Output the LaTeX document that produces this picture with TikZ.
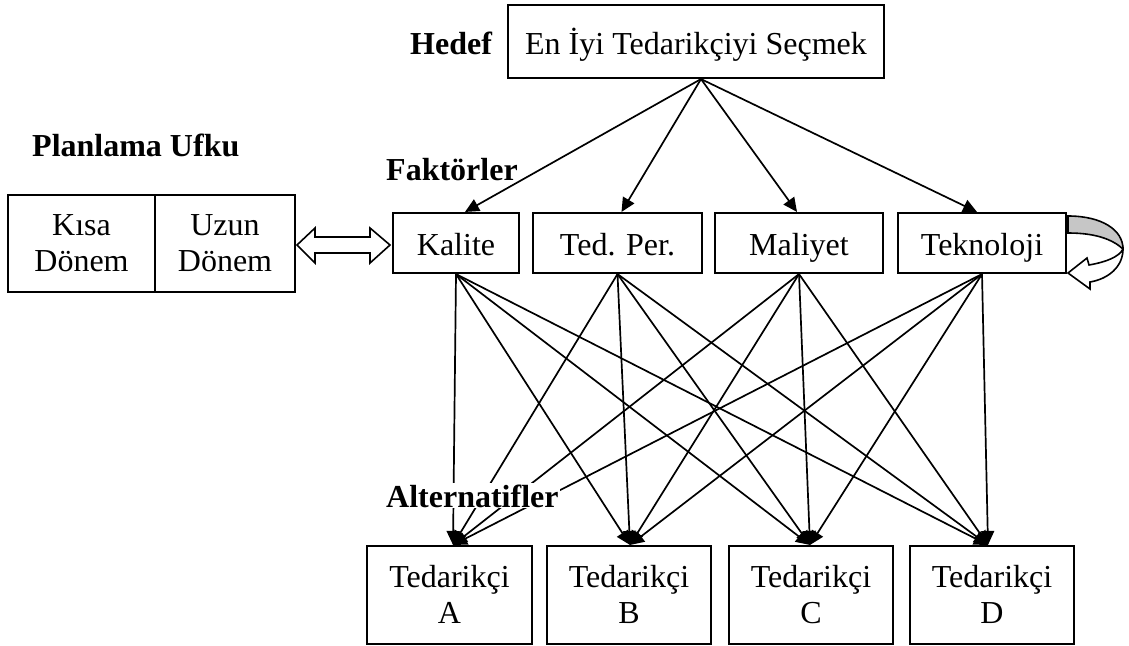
\documentclass[tikz,border=0pt]{standalone}
\usepackage{fontspec}
\setmainfont{Liberation Serif}
\usetikzlibrary{arrows.meta,calc}
% fixed line height for two-line box texts
\newcommand\boxline{\rule[-8pt]{0pt}{36pt}}
\begin{document}
\begin{tikzpicture}[x=1pt,y=-1pt,
  box/.style={draw,line width=2.1pt,inner sep=0pt,align=center,
    font=\fontsize{32}{36}\selectfont},
  onel/.style={box,text height=30pt,text depth=6pt},
  lbl/.style={inner sep=0pt,anchor=base west,
    font=\fontsize{32}{36}\selectfont\bfseries},
  conn/.style={line width=1.7pt,-{Triangle[length=14pt,width=13pt]}},
  hollow/.style={draw,line width=1.6pt,line join=miter},
]
\useasboundingbox (0,0) rectangle (1129,645);

% goal
\node[box,text height=31pt,text depth=6pt,minimum width=376,minimum height=73] (goal) at (696,41.5) {En İyi Tedarikçiyi Seçmek};
\node[lbl] (hedef) at (410,54) {Hedef};

% factors
\node[lbl] (faktor) at (386,180) {Faktörler};
\node[onel,minimum width=126,minimum height=60] (kal) at (456,243) {Kalite};
\node[onel,minimum width=169,minimum height=60] (ted) at (617.5,243) {Ted. Per.};
\node[onel,minimum width=168,minimum height=60] (mal) at (799,243) {Maliyet};
\node[onel,minimum width=168,minimum height=60] (tek) at (982,243) {Teknoloji};

% planning horizon
\node[lbl] (ufuk) at (32,156) {Planlama Ufku};
\node[box,minimum width=147,minimum height=97] (kisa) at (81.5,243.5) {\boxline Kısa\\\boxline Dönem};
\node[box,minimum width=140,minimum height=97] (uzun) at (225,243.5) {\boxline Uzun\\\boxline Dönem};

% alternatives
\node[box,minimum width=165,minimum height=98] (altA) at (449.5,595) {\boxline Tedarikçi\\\boxline A};
\node[box,minimum width=164,minimum height=98] (altB) at (629,595) {\boxline Tedarikçi\\\boxline B};
\node[box,minimum width=164,minimum height=98] (altC) at (811,595) {\boxline Tedarikçi\\\boxline C};
\node[box,minimum width=164,minimum height=98] (altD) at (992,595) {\boxline Tedarikçi\\\boxline D};

% goal -> factors
\coordinate (gs) at ($(goal.south)+(5,0)$);
\draw[conn] (gs) -- ([xshift=9]kal.north);
\draw[conn] (gs) -- ([xshift=4]ted.north);
\draw[conn] (gs) -- ([xshift=-2]mal.north);
\draw[conn] (gs) -- ([xshift=-5]tek.north);

% factors -> alternatives
\foreach \f in {kal,ted,mal,tek}
  \foreach \a/\s in {altA/3.5,altB/1,altC/-1,altD/-4}
    \draw[conn] (\f.south) -- ([xshift=\s]\a.north);

% level label sits on a white text box above the links
\node[lbl,fill=white,inner sep=1pt] (alt) at (385,507) {Alternatifler};

% two-way link between horizon and factors
\draw[hollow,fill=white] (297,245) -- (315,228) -- (315,237) -- (370,237) -- (370,228)
  -- (390,245) -- (370,263) -- (370,253) -- (315,253) -- (315,263) -- cycle;

% feedback loop on Teknoloji
\draw[hollow,fill=gray!45] (1068,216) .. controls (1102,216) and (1123,230) .. (1123,249)
  .. controls (1112,239) and (1095,233) .. (1068,233) -- cycle;
\draw[hollow,fill=white] (1123,249) .. controls (1123,267) and (1108,279) .. (1090,282)
  -- (1090,289) -- (1068,273) -- (1087,258) -- (1089,265)
  .. controls (1106,262) and (1119,257) .. (1123,249) -- cycle;
\end{tikzpicture}
\end{document}
